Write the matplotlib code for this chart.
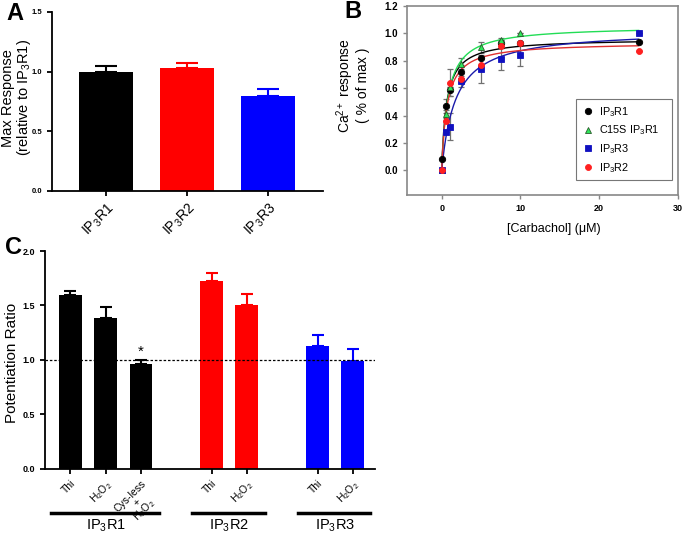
"""Three-panel IP3R response figure (A: max response, B: carbachol dose-response, C: potentiation)."""
import numpy as np
import matplotlib.pyplot as plt
from matplotlib.lines import Line2D

plt.rcParams["font.family"] = ["Liberation Sans", "DejaVu Sans"]
plt.rcParams["mathtext.fontset"] = "custom"
plt.rcParams["mathtext.rm"] = "Liberation Sans"
plt.rcParams["mathtext.it"] = "Liberation Sans:italic"

# ---- panel A data
a_labels = ["IP$_3$R1", "IP$_3$R2", "IP$_3$R3"]
a_values = [1.00, 1.03, 0.80]
a_err = [0.05, 0.045, 0.055]
a_colors = ["#000000", "#ff0000", "#0000ff"]

# ---- panel B data (carbachol, uM)
b_x = [0, 0.5, 1, 2.5, 5, 7.5, 10, 25]
b_r1 = [0.08, 0.47, 0.59, 0.72, 0.82, 0.93, 0.93, 0.94]
b_c15s = [0.00, 0.41, 0.61, 0.78, 0.90, 0.95, 1.00]
b_r3 = [0.00, 0.28, 0.32, 0.65, 0.74, 0.81, 0.84, 1.00]
b_r2 = [0.00, 0.36, 0.64, 0.67, 0.77, 0.91, 0.93, 0.875]
b_r1_err = [0.0, 0.05, 0.05, 0.05, 0.0, 0.04, 0.0, 0.0]
b_c15s_err = [0.0, 0.03, 0.0, 0.04, 0.04, 0.0, 0.0]
b_r3_err = [0.0, 0.0, 0.10, 0.04, 0.10, 0.08, 0.08, 0.0]
b_r2_err = [0.0, 0.0, 0.10, 0.0, 0.0, 0.0, 0.0, 0.0]

# ---- panel C data
c_labels = ["Thi", "H$_2$O$_2$", "Cys-less\n+\nH$_2$O$_2$", "Thi", "H$_2$O$_2$", "Thi", "H$_2$O$_2$"]
c_pos = [0, 1, 2, 4, 5, 7, 8]
c_values = [1.60, 1.385, 0.965, 1.72, 1.50, 1.125, 0.99]
c_err = [0.035, 0.10, 0.033, 0.08, 0.105, 0.10, 0.105]
c_colors = ["#000000"] * 3 + ["#ff0000"] * 2 + ["#0000ff"] * 2
c_groups = ["IP$_3$R1", "IP$_3$R2", "IP$_3$R3"]
c_group_pos = [(0, 2), (4, 5), (7, 8)]


def fit_hyperbola(x, y):
    # least squares fit of y = vmax * x / (k + x), grid over k
    x = np.asarray(x, float)
    y = np.asarray(y, float)
    best = None
    for k in np.logspace(-2, 1.5, 600):
        f = x / (k + x)
        vmax = (f * y).sum() / (f * f).sum()
        sse = ((vmax * f - y) ** 2).sum()
        if best is None or sse < best[0]:
            best = (sse, vmax, k)
    return best[1], best[2]


def upper_errbar(ax, xs, ys, errs, colors, capsize, lw):
    for x, y, e, c in zip(xs, ys, errs, colors):
        ax.errorbar([x], [y], yerr=[[0], [e]], fmt="none", ecolor=c,
                    elinewidth=lw, capsize=capsize, capthick=lw, zorder=1)


fig = plt.figure(figsize=(6.83, 5.33), dpi=100)

# ================= A
axA = fig.add_axes([0.0761, 0.6417, 0.3968, 0.3358])
xa = np.arange(len(a_values))
upper_errbar(axA, xa, a_values, a_err, a_colors, 8, 1.5)
axA.bar(xa, a_values, width=0.67, color=a_colors, zorder=2)
axA.set_xlim(-0.67, 2.68)
axA.set_ylim(0, 1.5)
axA.set_yticks([0.0, 0.5, 1.0, 1.5])
axA.set_yticklabels(["0.0", "0.5", "1.0", "1.5"], fontsize=5.5, fontweight="bold")
axA.set_xticks(xa)
axA.set_xticklabels(a_labels, rotation=45, ha="right", rotation_mode="anchor", fontsize=10)
axA.set_ylabel("Max Response\n(relative to IP$_3$R1)", fontsize=10.5, linespacing=1.0)
axA.yaxis.set_label_coords(-0.07, 0.52)
for s in ["top", "right"]:
    axA.spines[s].set_visible(False)
for s in ["left", "bottom"]:
    axA.spines[s].set_linewidth(1.3)
axA.tick_params(width=1.3, length=3.5)
fig.text(15 / 683, 1 - 13 / 533, "A", fontsize=17, fontweight="bold", ha="center", va="center")

# ================= B
axB = fig.add_axes([0.5959, 0.6341, 0.3968, 0.3546])
series = [
    ("IP$_3$R1", b_r1, b_r1_err, "#000000", "o", "#000000", 4.6),
    ("C15S IP$_3$R1", b_c15s, b_c15s_err, "#2ee65a", "^", "#2b5a2b", 4.8),
    ("IP$_3$R3", b_r3, b_r3_err, "#1010c0", "s", "#1010c0", 3.8),
    ("IP$_3$R2", b_r2, b_r2_err, "#ff2020", "o", "#ff2020", 4.3),
]
line_colors = {"IP$_3$R1": "#000000", "C15S IP$_3$R1": "#22dd55",
               "IP$_3$R3": "#1a1aaa", "IP$_3$R2": "#e03030"}
handles = []
for name, ys, es, fc, mk, ec, ms in series:
    xs = b_x[:len(ys)]
    vmax, k = fit_hyperbola(xs, ys)
    xf = np.linspace(0, 25, 300)
    axB.plot(xf, vmax * xf / (k + xf), color=line_colors[name], lw=1.0, zorder=2)
    axB.errorbar(xs, ys, yerr=es, fmt="none", ecolor="#707070", elinewidth=0.9,
                 capsize=2.5, capthick=0.9, zorder=1)
    axB.plot(xs, ys, ls="none", marker=mk, ms=ms, mfc=fc, mec=ec, mew=0.6, zorder=3)
    handles.append(Line2D([], [], ls="none", marker=mk, ms=ms, mfc=fc, mec=ec, mew=0.6, label=name))
axB.set_xlim(-4.4, 30)
axB.set_ylim(-0.18, 1.2)
axB.set_xticks([0, 10, 20, 30])
axB.set_xticklabels(["0", "10", "20", "30"], fontsize=6.5, fontweight="bold")
axB.set_yticks(np.arange(0, 1.21, 0.2))
axB.set_yticklabels(["0.0", "0.2", "0.4", "0.6", "0.8", "1.0", "1.2"], fontsize=7, fontweight="bold")
for s in axB.spines.values():
    s.set_color("#888888")
    s.set_linewidth(1.2)
axB.tick_params(color="#888888", length=3, width=1)
axB.set_xlabel("[Carbachol] (\u03bcM)", fontsize=9)
axB.xaxis.set_label_coords(0.54, -0.15)
axB.set_ylabel("Ca$^{2+}$ response\n( % of max )", fontsize=10, linespacing=1.0)
axB.yaxis.set_label_coords(-0.135, 0.58)
leg = axB.legend(handles=handles, loc="lower left", bbox_to_anchor=(0.624, 0.079, 0.354, 0.355),
                 mode="expand", fontsize=7.8, frameon=True, fancybox=False, handletextpad=0.4,
                 borderaxespad=0, labelspacing=0.45, handlelength=1.2, borderpad=0.5)
leg.get_frame().set_edgecolor("#555555")
leg.get_frame().set_linewidth(0.8)
fig.text(353 / 683, 1 - 12 / 533, "B", fontsize=17, fontweight="bold", ha="center", va="center")

# ================= C
axC = fig.add_axes([0.0659, 0.121, 0.4832, 0.408])
upper_errbar(axC, c_pos, c_values, c_err, c_colors, 4.3, 1.5)
axC.bar(c_pos, c_values, width=0.65, color=c_colors, zorder=2)
axC.axhline(1.0, color="black", ls=(0, (2, 1.5)), lw=0.9, zorder=3)
axC.text(c_pos[2], c_values[2] + c_err[2] + 0.01, "*", ha="center", va="bottom", fontsize=11)
axC.set_xlim(-0.72, 8.63)
axC.set_ylim(0, 2.0)
axC.set_yticks([0.0, 0.5, 1.0, 1.5, 2.0])
axC.set_yticklabels(["0.0", "0.5", "1.0", "1.5", "2.0"], fontsize=6.5, fontweight="bold")
axC.set_xticks(c_pos)
axC.set_xticklabels(c_labels, rotation=45, ha="right", va="top", rotation_mode="anchor",
                    fontsize=7.5, linespacing=0.9, multialignment="center")
axC.set_ylabel("Potentiation Ratio", fontsize=11)
axC.yaxis.set_label_coords(-0.08, 0.485)
for s in ["top", "right"]:
    axC.spines[s].set_visible(False)
for s in ["left", "bottom"]:
    axC.spines[s].set_linewidth(1.3)
axC.tick_params(width=1.3, length=3.5)
tr = axC.get_xaxis_transform()
for name, (p0, p1) in zip(c_groups, c_group_pos):
    axC.plot([p0 - 0.55, p1 + 0.5], [-0.205, -0.205], color="black", lw=2.5,
             transform=tr, clip_on=False)
    axC.text((p0 + p1) / 2, -0.225, name, transform=tr, ha="center", va="top", fontsize=10.5)
fig.text(14 / 683, 1 - 247 / 533, "C", fontsize=17, fontweight="bold", ha="center", va="center")

fig.savefig("out.png", dpi=100)
